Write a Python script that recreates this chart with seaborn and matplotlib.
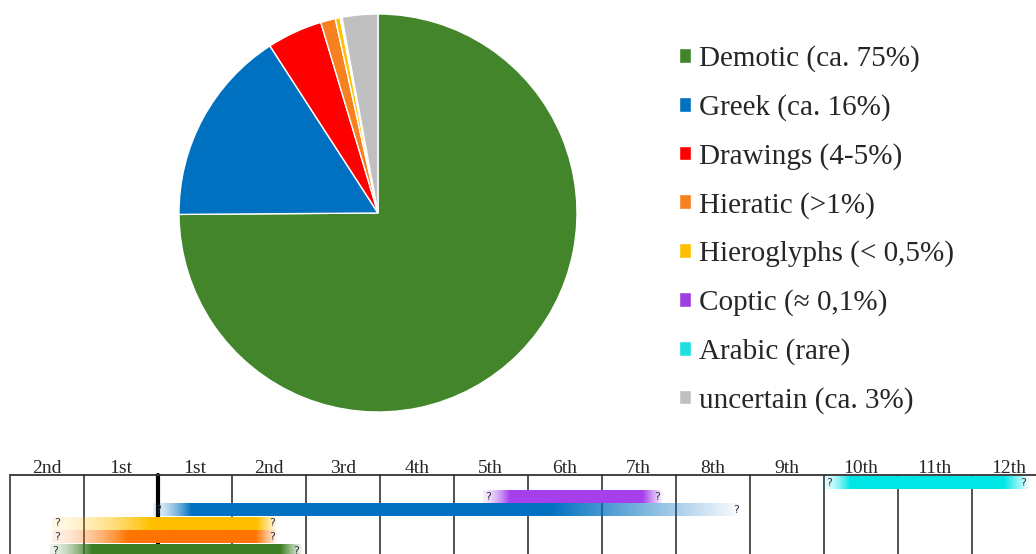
import numpy as np
import matplotlib
matplotlib.use("Agg")
import matplotlib.pyplot as plt
import matplotlib.colors as mcolors
import seaborn as sns

# Pie data
scripts = ["Demotic (ca. 75%)", "Greek (ca. 16%)", "Drawings (4-5%)", "Hieratic (>1%)",
           "Hieroglyphs (< 0,5%)", "Coptic (\u2248 0,1%)", "Arabic (rare)", "uncertain (ca. 3%)"]
shares = [75, 16, 4.5, 1.2, 0.4, 0.1, 0.05, 2.9]
colors = ["#43852b", "#0070c0", "#ff0000", "#f7801f", "#ffc000", "#9d3fe0", "#1ee0e0", "#c0c0c0"]

# Timeline data (centuries, 0 = turn of the era)
centuries = ["2nd", "1st", "1st", "2nd", "3rd", "4th", "5th", "6th", "7th", "8th",
             "9th", "10th", "11th", "12th"]
tl_names = ["Arabic", "Coptic", "Greek", "Hieroglyphs", "Hieratic", "Demotic"]
tl_colors = ["#00e6e6", "#a540ec", "#0070c0", "#ffc000", "#ff7400", "#3e7f25"]
fade_start = [9.0, 4.4, -0.06, -1.43, -1.43, -1.46]
full_start = [9.35, 4.76, 0.45, -0.1, -0.4, -0.9]
full_end = [11.43, 6.56, 5.3, 1.34, 1.32, 1.65]
fade_end = [11.78, 6.83, 7.9, 1.62, 1.62, 1.95]

sns.set_theme(style="white")
plt.rcParams["font.family"] = ["Liberation Serif", "DejaVu Serif"]

W, H = 1036, 554
fig = plt.figure(figsize=(W / 100, H / 100), dpi=100)

# pie
ax = fig.add_axes([178 / W, 1 - 413 / H, 400 / W, 400 / H])
wedges, _ = ax.pie(shares, colors=colors, startangle=90, counterclock=False,
                   wedgeprops=dict(edgecolor="white", linewidth=1))
ax.set_xlim(-1.005, 1.005)
ax.set_ylim(-1.005, 1.005)
ax.set_aspect("equal")

fig.legend(wedges, scripts, loc="center left", bbox_to_anchor=(679 / W, 1 - 229.5 / H),
           frameon=False, fontsize=21, handlelength=0.4, handleheight=0.4,
           handletextpad=0.3, labelspacing=0.75, borderpad=0, borderaxespad=0)

# timeline
tx = fig.add_axes([0, 0, 1, 99 / H])
x0 = (0 - 157.7) / 74
x1 = (W - 157.7) / 74
step = 13.5
y_top, y_bot = (455 - 483) / step, (554 - 483) / step
head = (475 - 483) / step

edges = np.arange(-2, 13)
tx.plot([-2, x1], [head, head], color="#333333", lw=1.3)
for e in edges:
    tx.plot([e, e], [head, y_bot + 1], color="black" if e == 0 else "#333333",
            lw=3 if e == 0 else 1.2, zorder=1)
for i, lab in enumerate(centuries):
    tx.text(edges[i] + 0.5, head - 0.12, lab, ha="center", va="baseline", fontsize=14)

h = 0.9
for row, (c, a, b, d, e) in enumerate(zip(tl_colors, fade_start, full_start, full_end, fade_end)):
    xs = np.linspace(a, e, 400)
    alpha = np.ones_like(xs)
    alpha = np.where(xs < b, 0.1 + 0.9 * ((xs - a) / (b - a)) ** 1.6, alpha)
    alpha = np.where(xs > d, 1 - (xs - d) / (e - d), alpha)
    rgba = np.zeros((1, len(xs), 4))
    rgba[..., :3] = mcolors.to_rgb(c)
    rgba[..., 3] = np.clip(alpha, 0, 1)
    tx.imshow(rgba, extent=(a, e, row + h / 2, row - h / 2), aspect="auto",
              interpolation="bilinear", zorder=2)
    tx.text(a + 0.07, row, "?", ha="center", va="center", fontsize=8,
            color="#333344", family="DejaVu Sans", zorder=3)
    tx.text(e - 0.08, row, "?", ha="center", va="center", fontsize=8,
            color="#333344", family="DejaVu Sans", zorder=3)
tx.set_xlim(x0, x1)
tx.set_ylim(y_bot, y_top)
tx.axis("off")

fig.savefig("out.png", dpi=100)
